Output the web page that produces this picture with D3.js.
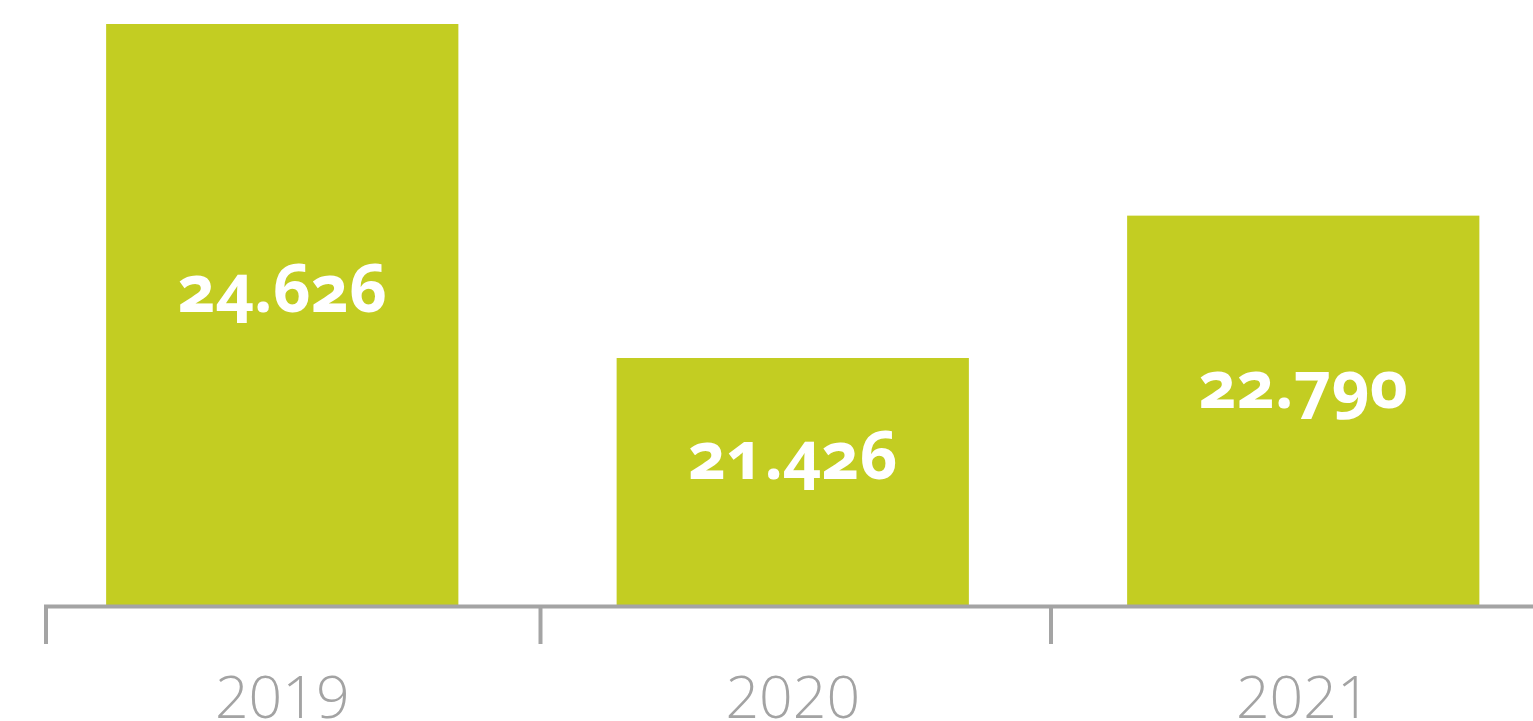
<!DOCTYPE html>
<html>
<head>
<meta charset="utf-8">
<script src="https://cdn.jsdelivr.net/npm/d3@7"></script>
<style>
  html, body { margin: 0; padding: 0; background: #fff; }
  svg { display: block; }
  .bar-label {
    font-family: "Open Sans", sans-serif;
    font-weight: 700;
    font-size: 66px;
    fill: #fff;
    font-feature-settings: "onum" 1;
    font-variant-numeric: oldstyle-nums;
  }
  .year-label {
    font-family: "Open Sans", sans-serif;
    font-weight: 300;
    font-size: 59px;
    fill: #a3a3a3;
  }
</style>
</head>
<body>
<svg id="chart"></svg>
<script>
// Data
const years = ['2019', '2020', '2021'];
const values = [24626, 21426, 22790];
const valueLabels = ['24.626', '21.426', '22.790'];

const width = 1533;
const height = 721;
const baseY = 606;
const axisStart = 46;
const barColor = '#c3cd22';
const axisColor = '#a4a4a4';

const svg = d3.select('#chart').attr('width', width).attr('height', height);

// Scales
const xScale = d3
  .scaleBand()
  .domain(years)
  .range([27, 1558.5])
  .paddingInner(0.31)
  .paddingOuter(0.155);

const yScale = d3.scaleLinear().domain([19050, 24856]).range([baseY, 0]);

const gap = xScale.step() - xScale.bandwidth();

// Bars
svg
  .append('g')
  .selectAll('rect')
  .data(years)
  .enter()
  .append('rect')
  .attr('x', d => xScale(d))
  .attr('width', xScale.bandwidth())
  .attr('y', (d, i) => yScale(values[i]))
  .attr('height', (d, i) => baseY - yScale(values[i]))
  .attr('fill', barColor);

// Value labels
svg
  .append('g')
  .selectAll('text')
  .data(years)
  .enter()
  .append('text')
  .attr('class', 'bar-label')
  .attr('text-anchor', 'middle')
  .attr('x', d => xScale(d) + xScale.bandwidth() / 2)
  .attr('y', (d, i) => (yScale(values[i]) + baseY) / 2 - 3)
  .text((d, i) => valueLabels[i]);

// Axis
const axis = svg.append('g');
axis
  .append('line')
  .attr('x1', axisStart - 2)
  .attr('x2', width)
  .attr('y1', baseY + 0.5)
  .attr('y2', baseY + 0.5)
  .attr('stroke', axisColor)
  .attr('stroke-width', 4);

axis
  .selectAll('line.tick')
  .data(years)
  .enter()
  .append('line')
  .attr('class', 'tick')
  .attr('x1', d => Math.max(axisStart, xScale(d) - gap / 2 + 3))
  .attr('x2', d => Math.max(axisStart, xScale(d) - gap / 2 + 3))
  .attr('y1', baseY - 1)
  .attr('y2', 644)
  .attr('stroke', axisColor)
  .attr('stroke-width', 4);

axis
  .selectAll('text')
  .data(years)
  .enter()
  .append('text')
  .attr('class', 'year-label')
  .attr('text-anchor', 'middle')
  .attr('x', d => xScale(d) + xScale.bandwidth() / 2)
  .attr('y', 718)
  .text(d => d);
</script>
</body>
</html>
